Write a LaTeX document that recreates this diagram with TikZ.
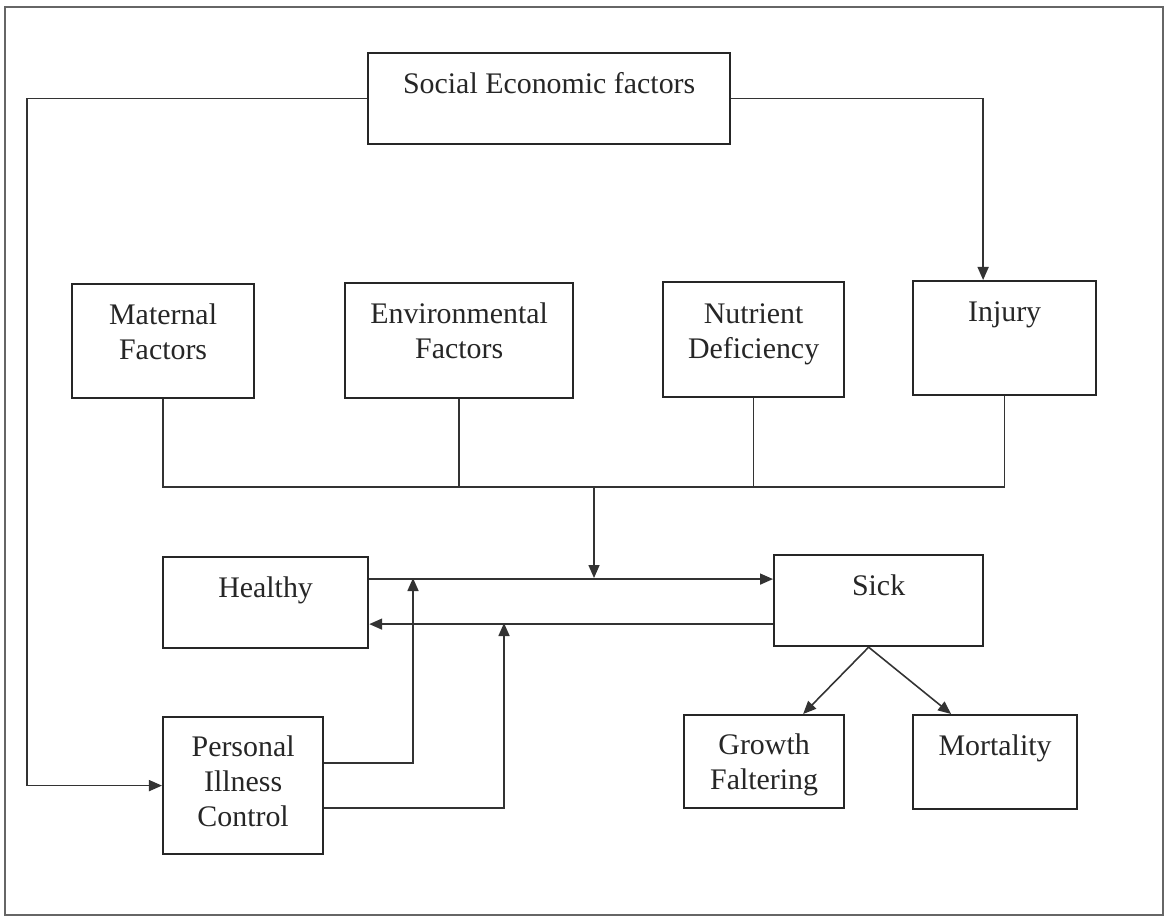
\documentclass[tikz,border=0pt]{standalone}
\usepackage{fontspec}
\setmainfont{Liberation Serif}
\usetikzlibrary{arrows.meta,positioning,calc}

\begin{document}
\begin{tikzpicture}
          [x=0.01cm,y=-0.01cm,semithick,>={Triangle[length=1.3mm,width=1.1mm]},
           font=\fontsize{8.5pt}{10pt}\selectfont]
          \tikzstyle{box}=[draw=black!85,text=black!85,inner sep=0pt,anchor=north west,align=center,text height=0.4cm]
          \tikzstyle{link}=[draw=black!80,line width=0.45pt]

          \useasboundingbox (0,0) rectangle (1171,921);
          \draw[black!60,line width=0.5pt] (5,7) rectangle (1163,915);

          % boxes (text height counts down to the last line)
          \node[box,minimum width=3.62cm,text depth=0.51cm] (soc) at (367,52) {Social Economic factors};
          \node[box,minimum width=1.82cm,text height=0.753cm,text depth=0.387cm] (mat) at (71,283) {Maternal\\Factors};
          \node[box,minimum width=2.28cm,text height=0.753cm,text depth=0.397cm] (env) at (344,282) {Environmental\\Factors};
          \node[box,minimum width=1.81cm,text height=0.763cm,text depth=0.387cm] (nut) at (662,281) {Nutrient\\Deficiency};
          \node[box,minimum width=1.83cm,text depth=0.74cm] (inj) at (912,280) {Injury};
          \node[box,minimum width=2.05cm,text depth=0.51cm] (hea) at (162,556) {Healthy};
          \node[box,minimum width=2.09cm,text depth=0.51cm] (sic) at (773,554) {Sick};
          \node[box,minimum width=1.60cm,text height=1.096cm,text depth=0.274cm] (per) at (162,716) {Personal\\Illness\\Control};
          \node[box,minimum width=1.60cm,text height=0.743cm,text depth=0.187cm] (gro) at (683,714) {Growth\\Faltering};
          \node[box,minimum width=1.64cm,text depth=0.54cm] (mor) at (912,714) {Mortality};

          \coordinate (bus) at (0,487);
          \coordinate (drop) at (594,487);
          \coordinate (up1) at (413,578);
          \coordinate (up2) at (504,623);

          % connectors
          \path[link]
          (mat.south) |- (inj.south |- bus) -- (inj.south)
          (env.south) -- (env.south |- bus)
          (nut.south) -- (nut.south |- bus)
          ;
          \draw[link,->] (soc.west) -- ++(-340,0) |- (per.west);
          \draw[link,->] (soc.east) -| ([xshift=-2.15mm]inj.north);
          \draw[link,->] (drop) -- (drop |- up1);
          \draw[link,->] ([yshift=2.35mm]hea.east) -- ([yshift=2.35mm]hea.east -| sic.west);
          \draw[link,->] ([yshift=-2.15mm]hea.east -| sic.west) -- ([yshift=-2.15mm]hea.east);
          \draw[link,->] ([yshift=2.25mm]per.east) -| (up1);
          \draw[link,->] ([yshift=-2.25mm]per.east) -| (up2);
          \draw[link,->] ([xshift=-1mm]sic.south) -- ([xshift=3.9mm]gro.north);
          \draw[link,->] ([xshift=-1mm]sic.south) -- ([xshift=-4.4mm]mor.north);
        \end{tikzpicture}
\end{document}
